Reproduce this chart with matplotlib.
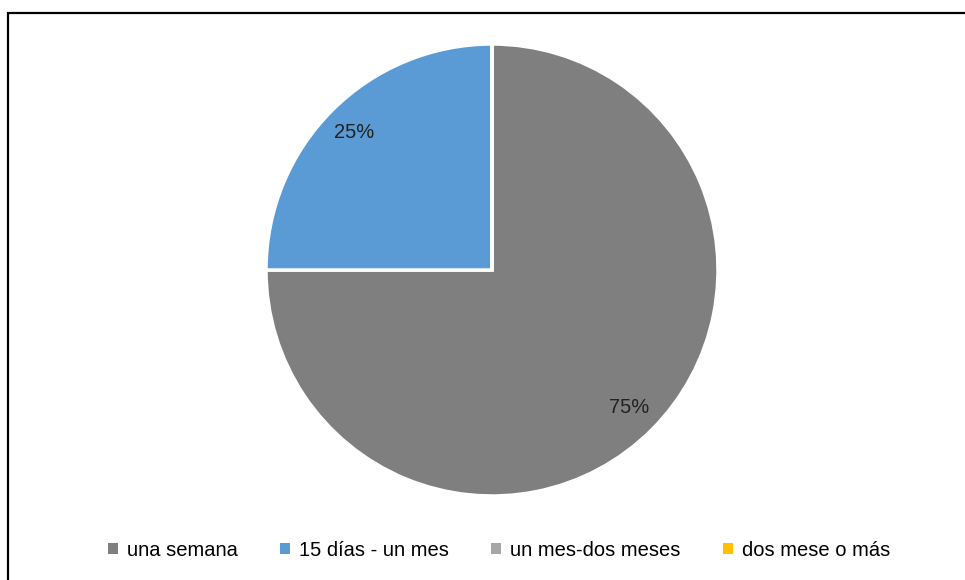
import matplotlib
matplotlib.use("Agg")
import matplotlib.pyplot as plt
from matplotlib.patches import Rectangle, Patch

categories = ["una semana", "15 días - un mes", "un mes-dos meses", "dos mese o más"]
values = [75, 25, 0, 0]
colors = ["#7f7f7f", "#5b9bd5", "#a5a5a5", "#ffc000"]

plt.rcParams['font.family'] = ['Liberation Sans', 'DejaVu Sans']

W, H = 965, 580
fig = plt.figure(figsize=(W / 100, H / 100), dpi=100)
fig.patch.set_facecolor("white")

cx, cy, r = 492, 270, 226
ax = fig.add_axes([(cx - r) / W, (H - cy - r) / H, 2 * r / W, 2 * r / H])

def fmt(p):
    return f"{p:.0f}%" if p > 0.5 else ""

wedges, texts, autotexts = ax.pie(
    values, colors=colors, startangle=90, counterclock=False,
    autopct=fmt, pctdistance=0.86, radius=1,
    wedgeprops=dict(edgecolor="white", linewidth=2.5),
    textprops=dict(fontsize=14.5, color="#222222"))
ax.set_xlim(-1, 1)
ax.set_ylim(-1, 1)
ax.set_aspect("equal")
ax.axis("off")

handles = [Patch(facecolor=c, edgecolor="none") for c in colors]
fig.legend(handles, categories, loc="center", bbox_to_anchor=(499 / W, 1 - 550 / H),
           ncol=4, frameon=False, fontsize=14.5, handlelength=0.5, handleheight=0.5,
           handletextpad=0.45, columnspacing=2.1)

fig.patches.append(Rectangle((8 / W, -0.1), 1.2, 1 - 13 / H + 0.1, transform=fig.transFigure,
                             fill=False, edgecolor="black", linewidth=1.6, clip_on=False))

fig.savefig("out.png", dpi=100)
